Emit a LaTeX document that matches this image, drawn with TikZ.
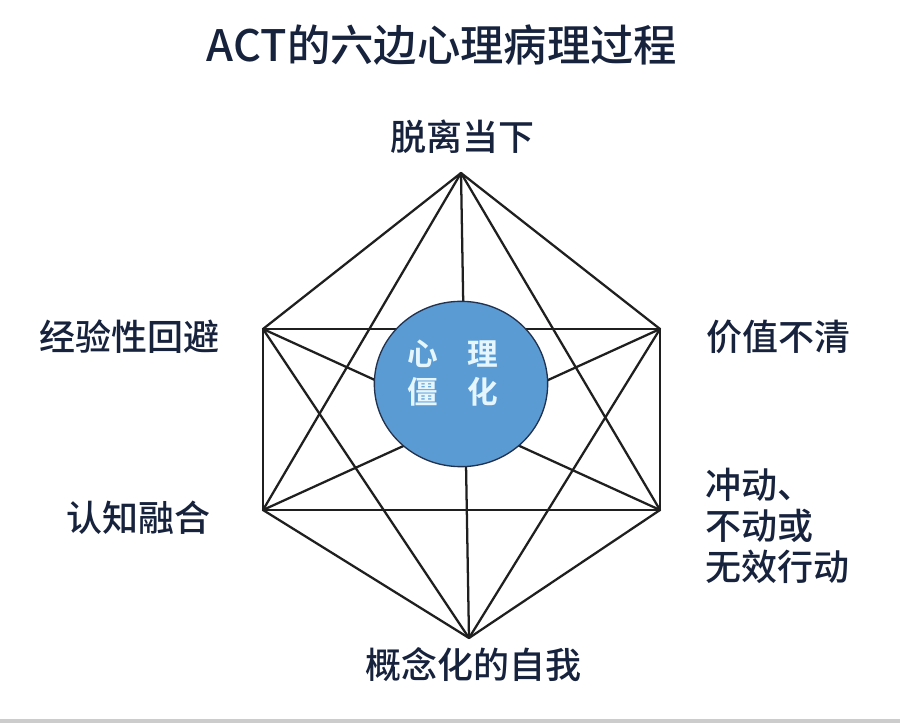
\documentclass[tikz,border=0pt]{standalone}
\usepackage{fontspec}
\setmainfont{Noto Sans CJK SC}[UprightFont=* Medium, BoldFont=* Bold]
\usetikzlibrary{shapes.geometric}
\definecolor{navy}{HTML}{17223D}
\definecolor{coreblue}{HTML}{5B9BD3}
\definecolor{coreedge}{HTML}{22324E}
\definecolor{coretext}{HTML}{E6F6FF}
\begin{document}
\begin{tikzpicture}[x=0.75pt,y=-0.75pt,
  edge/.style={line width=1.7pt, draw=black!88, line cap=round},
  lab/.style={text=navy, font=\fontsize{27}{31}\selectfont, inner sep=0pt},
  coretxt/.style={text=coretext, font=\bfseries\fontsize{23}{26}\selectfont, inner sep=0pt}]
\useasboundingbox (0,0) rectangle (900,723);
\fill[white] (0,0) rectangle (900,723);
\fill[gray!40] (0,719) rectangle (900,723);
% vertices
\coordinate (T) at (461,173);
\coordinate (UR) at (660,329);
\coordinate (LR) at (660,510);
\coordinate (B) at (469,638);
\coordinate (LL) at (263,510);
\coordinate (UL) at (263,329);
% complete graph
\foreach \a/\b in {T/UR,UR/LR,LR/B,B/LL,LL/UL,UL/T,
                   T/LR,UR/B,LR/LL,B/UL,LL/T,UL/UR,
                   T/B,UR/LL,LR/UL}
  \draw[edge] (\a) -- (\b);
% core
\node[ellipse, minimum width=130pt, minimum height=124pt, fill=coreblue, draw=coreedge, line width=1pt] (core) at (461,384) {};
\node[coretxt] (c1) at (423,354) {心};
\node[coretxt] (c2) at (483,354) {理};
\node[coretxt] (c3) at (423,392) {僵};
\node[coretxt] (c4) at (483,392) {化};
% title
\node[lab, font=\fontsize{32.5}{36}\selectfont] (title) at (442,45) {ACT的六边心理病理过程};
% labels
\node[lab] (top) at (462,137) {脱离当下};
\node[lab] (ul) at (130,337) {经验性回避};
\node[lab] (ll) at (138,518) {认知融合};
\node[lab] (ur) at (778,337) {价值不清};
\node[lab, align=left, anchor=west] (lr) at (705,526) {冲动、\\不动或\\无效行动};
\node[lab] (bot) at (473,665) {概念化的自我};
\end{tikzpicture}
\end{document}
